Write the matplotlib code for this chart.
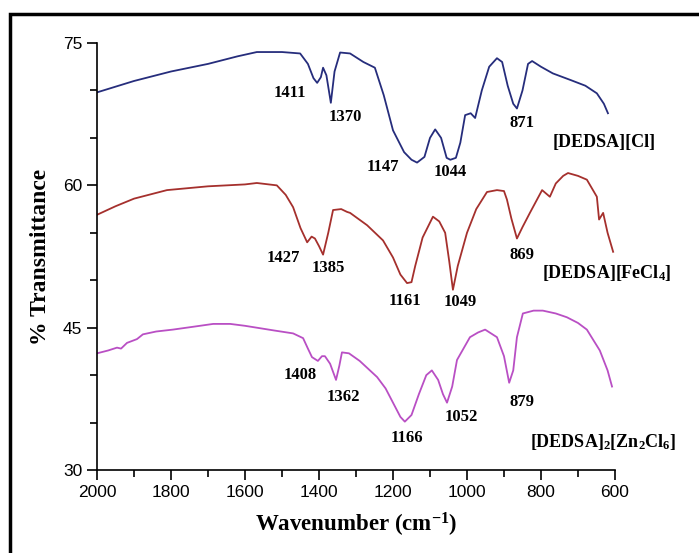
import numpy as np
import matplotlib
matplotlib.use("Agg")
import matplotlib.pyplot as plt
from matplotlib.patches import Rectangle
from matplotlib.ticker import MultipleLocator

plt.rcParams["mathtext.fontset"] = "custom"
plt.rcParams["mathtext.rm"] = "Liberation Serif:bold"
plt.rcParams["mathtext.bf"] = "Liberation Serif:bold"
plt.rcParams["mathtext.it"] = "Liberation Serif:bold"

# [DEDSA][Cl]
cl_x = [2000, 1900, 1800, 1700, 1620, 1568, 1500, 1451, 1430, 1415, 1405, 1395, 1389,
        1380, 1368, 1358, 1343, 1316, 1280, 1249, 1225, 1200, 1170, 1150, 1135, 1115,
        1100, 1086, 1070, 1055, 1045, 1030, 1018, 1005, 990, 978, 960, 940, 919, 905,
        890, 875, 865, 850, 835, 824, 800, 768, 720, 680, 649, 630, 619]
cl_y = [69.8, 71.0, 72.0, 72.8, 73.6, 74.05, 74.05, 73.9, 72.8, 71.3, 70.8, 71.4, 72.4,
        71.6, 68.7, 72.0, 74.0, 73.9, 73.0, 72.4, 69.5, 65.8, 63.5, 62.7, 62.4, 63.0,
        65.0, 65.9, 65.0, 62.9, 62.7, 62.9, 64.5, 67.4, 67.6, 67.1, 70.0, 72.5, 73.4, 73.0,
        70.5, 68.6, 68.1, 70.0, 72.8, 73.1, 72.5, 71.8, 71.1, 70.5, 69.7, 68.6, 67.6]

# [DEDSA][FeCl4]
fe_x = [2000, 1950, 1900, 1811, 1700, 1600, 1568, 1514, 1490, 1470, 1450, 1432, 1420,
        1411, 1400, 1389, 1375, 1362, 1340, 1324, 1316, 1270, 1227, 1200, 1180, 1162,
        1150, 1140, 1120, 1092, 1075, 1059, 1048, 1038, 1025, 1000, 975, 946, 919, 900,
        892, 880, 865, 850, 830, 797, 776, 760, 740, 727, 700, 676, 649, 643, 632, 620, 605]
fe_y = [56.9, 57.8, 58.6, 59.5, 59.9, 60.1, 60.25, 60.0, 59.0, 57.7, 55.5, 54.0, 54.6,
        54.4, 53.6, 52.7, 55.0, 57.4, 57.5, 57.2, 57.1, 55.8, 54.2, 52.4, 50.6, 49.7,
        49.8, 51.5, 54.5, 56.7, 56.2, 55.0, 52.0, 49.0, 51.5, 55.0, 57.5, 59.3, 59.5, 59.4,
        58.5, 56.5, 54.4, 55.6, 57.1, 59.5, 58.8, 60.2, 61.0, 61.3, 61.0, 60.6, 58.8, 56.4,
        57.1, 55.0, 53.0]

# [DEDSA]2[Zn2Cl6]
zn_x = [2000, 1970, 1946, 1935, 1919, 1892, 1876, 1840, 1795, 1740, 1686, 1640, 1600,
        1568, 1520, 1470, 1443, 1430, 1419, 1403, 1392, 1384, 1370, 1354, 1345, 1338,
        1319, 1290, 1243, 1220, 1200, 1180, 1168, 1150, 1130, 1110, 1095, 1078, 1065,
        1054, 1040, 1027, 992, 970, 951, 919, 900, 886, 875, 865, 849, 820, 795, 760,
        730, 700, 676, 641, 620, 608]
zn_y = [42.3, 42.6, 42.9, 42.8, 43.4, 43.8, 44.3, 44.6, 44.8, 45.1, 45.4, 45.4, 45.2,
        45.0, 44.7, 44.4, 43.9, 42.8, 41.9, 41.5, 42.0, 42.0, 41.2, 39.5, 41.0, 42.4,
        42.3, 41.5, 39.8, 38.6, 37.1, 35.6, 35.1, 35.8, 38.0, 40.0, 40.5, 39.5, 38.0,
        37.1, 38.8, 41.6, 44.0, 44.5, 44.8, 44.0, 42.0, 39.2, 40.5, 44.0, 46.5, 46.8,
        46.8, 46.5, 46.1, 45.5, 44.8, 42.6, 40.5, 38.8]

peak_labels = ["1411", "1370", "1147", "1044", "871",
               "1427", "1385", "1161", "1049", "869",
               "1408", "1362", "1166", "1052", "879"]
peak_x = [1478, 1330, 1227, 1046, 851,
          1497, 1376, 1168, 1019, 851,
          1451, 1335, 1162, 1014, 851]
peak_y = [69.7, 67.2, 61.9, 61.4, 66.6,
          52.3, 51.3, 47.8, 47.7, 52.7,
          40.0, 37.7, 33.4, 35.6, 37.2]

names = [r"[DEDSA][Cl]", r"[DEDSA][FeCl$_{4}$]", r"[DEDSA]$_{2}$[Zn$_{2}$Cl$_{6}$]"]
name_x = [768, 797, 830]
name_y = [64.5, 50.8, 33.0]

colors = ["#262d7c", "#a5302d", "#b94fc4"]

fig = plt.figure(figsize=(6.99, 5.53), dpi=100)
ax = fig.add_axes([0.1388, 0.150, 0.741, 0.7722])

for xs, ys, c in zip([cl_x, fe_x, zn_x], [cl_y, fe_y, zn_y], colors):
    ax.plot(xs, ys, color=c, lw=1.3)

for t, x, y in zip(peak_labels, peak_x, peak_y):
    ax.text(x, y, t, ha="center", va="center", fontsize=12,
            family="Liberation Serif", fontweight="bold")

for t, x, y in zip(names, name_x, name_y):
    ax.text(x, y, t, ha="left", va="center", fontsize=13,
            family="Liberation Serif", fontweight="bold")

ax.set_xlim(2000, 600)
ax.set_ylim(30, 75)
ax.xaxis.set_major_locator(MultipleLocator(200))
ax.xaxis.set_minor_locator(MultipleLocator(100))
ax.yaxis.set_major_locator(MultipleLocator(15))
ax.yaxis.set_minor_locator(MultipleLocator(5))
ax.tick_params(which="both", direction="out", width=1.2, labelsize=12.5)
ax.tick_params(which="major", length=7)
ax.tick_params(which="minor", length=5)
for lab in ax.get_xticklabels() + ax.get_yticklabels():
    lab.set_family("Liberation Sans")

for s in ["top", "right"]:
    ax.spines[s].set_visible(False)
for s in ["left", "bottom"]:
    ax.spines[s].set_linewidth(1.2)

ax.set_xlabel(r"Wavenumber (cm$^{\mathbf{-1}}$)", family="Liberation Serif",
              fontweight="bold", fontsize=16.5, labelpad=8)
ax.set_ylabel("% Transmittance", family="Liberation Serif",
              fontweight="bold", fontsize=17, labelpad=9)

# outer frame (only left and top edges visible in the original crop)
fig.patches.append(Rectangle((10 / 699, -0.05), 1.0, 1 - 14 / 553 + 0.05,
                             transform=fig.transFigure, fill=False,
                             edgecolor="black", lw=2.5))

fig.savefig("out.png", dpi=100)
